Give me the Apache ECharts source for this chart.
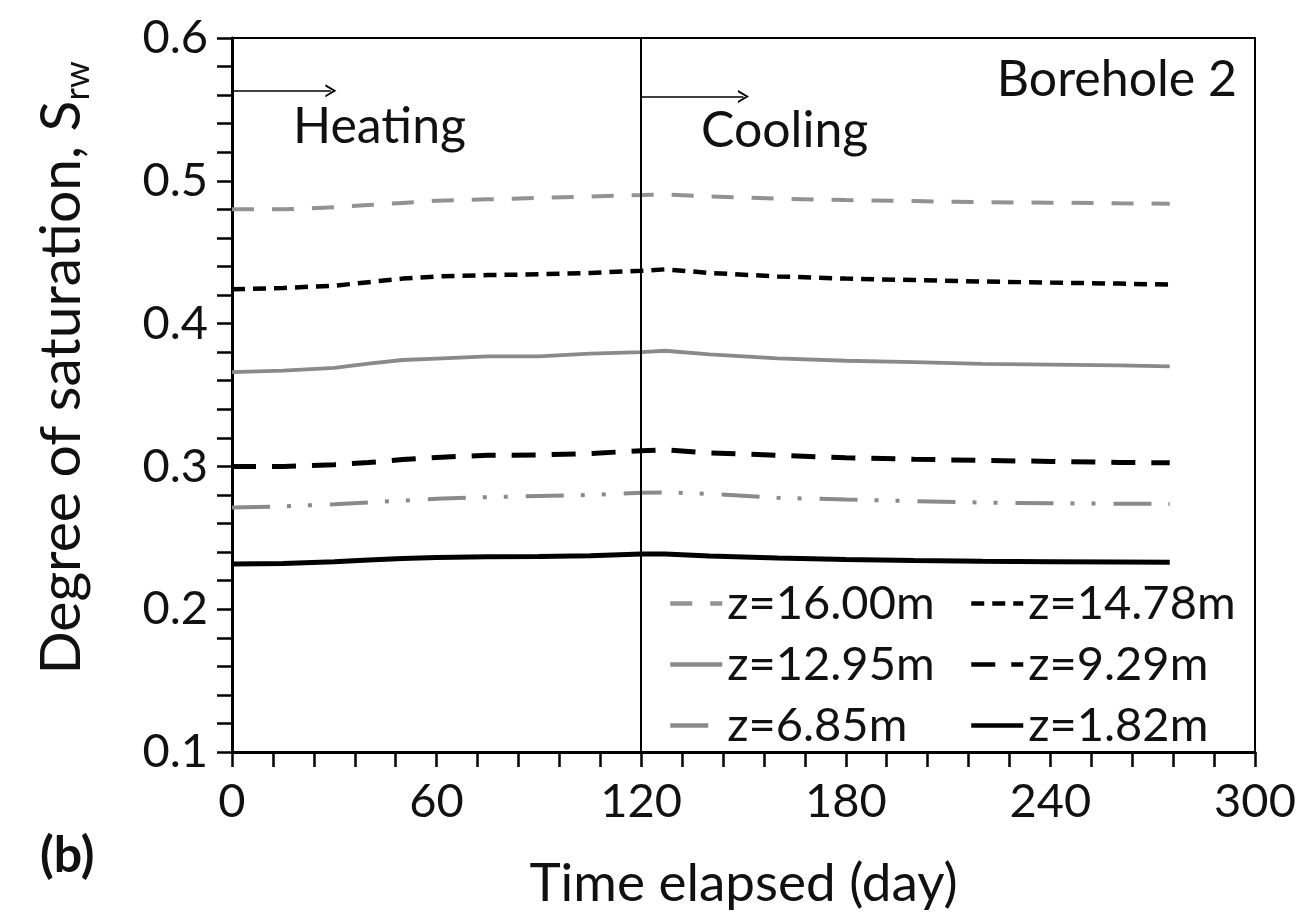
<!DOCTYPE html>
<html>
<head>
<meta charset="utf-8">
<script src="https://cdn.jsdelivr.net/npm/echarts@6/dist/echarts.min.js"></script>
<style>
  html, body { margin: 0; padding: 0; background: #fff; }
  #chart { width: 1304px; height: 915px; }
</style>
</head>
<body>
<div id="chart"></div>
<script>
// Time axis (days) and degree of saturation at each depth, Borehole 2
const days = [0, 15, 30, 40, 50, 60, 75, 90, 105, 120, 127, 140, 160, 180, 200, 220, 240, 260, 275];
const z1600 = [0.480, 0.480, 0.4815, 0.483, 0.4845, 0.486, 0.487, 0.488, 0.489, 0.490, 0.4905, 0.489, 0.4875, 0.4865, 0.4858, 0.485, 0.4847, 0.4842, 0.484];
const z1478 = [0.424, 0.425, 0.4265, 0.429, 0.4315, 0.433, 0.434, 0.4345, 0.4355, 0.437, 0.438, 0.4355, 0.433, 0.4315, 0.4305, 0.4295, 0.4287, 0.428, 0.4273];
const z1295 = [0.366, 0.367, 0.369, 0.372, 0.3745, 0.3755, 0.377, 0.377, 0.379, 0.380, 0.381, 0.3785, 0.3757, 0.374, 0.373, 0.3718, 0.3713, 0.3707, 0.370];
const z929  = [0.300, 0.300, 0.3012, 0.3027, 0.3048, 0.3063, 0.3078, 0.308, 0.309, 0.311, 0.3116, 0.3095, 0.3078, 0.306, 0.305, 0.3042, 0.3035, 0.3028, 0.3025];
const z685  = [0.2713, 0.272, 0.2735, 0.2748, 0.276, 0.2773, 0.2785, 0.2793, 0.280, 0.2815, 0.2818, 0.2808, 0.278, 0.2768, 0.2757, 0.2747, 0.2742, 0.2739, 0.2737];
const z182  = [0.2316, 0.232, 0.2332, 0.2345, 0.2355, 0.2362, 0.2367, 0.2369, 0.2375, 0.2386, 0.2387, 0.2372, 0.2358, 0.2348, 0.2341, 0.2336, 0.2333, 0.233, 0.2328];

const seriesNames = ['z=16.00m', 'z=14.78m', 'z=12.95m', 'z=9.29m', 'z=6.85m', 'z=1.82m'];
const xTicks = [0, 60, 120, 180, 240, 300];
const yTicks = [0.1, 0.2, 0.3, 0.4, 0.5, 0.6];

// Phase boundary and phase arrows (day, saturation)
const phaseSwitchDay = 120;
const heatingArrow = [[0, 0.563], [29, 0.563]];
const coolingArrow = [[120, 0.559], [150, 0.559]];

const FONT = 'Lato, "Open Sans", sans-serif';
const GRAY = '#8a8a8a';
const chevron = 'path://M0,10 L5,0 L10,10 L8.4,10 L5,3.2 L1.6,10 Z';

function pairs(vals) { return days.map((d, i) => [d, vals[i]]); }

function lineSeries(name, vals, color, width, type) {
  return {
    name: name,
    type: 'line',
    data: pairs(vals),
    symbol: 'none',
    smooth: false,
    silent: true,
    lineStyle: { color: color, width: width, type: type },
    itemStyle: { color: color },
    z: 3
  };
}

function arrowLine(seg) {
  return [
    { coord: seg[0], symbol: 'none' },
    { coord: seg[1], symbol: chevron, symbolSize: [13, 11] }
  ];
}

const chart = echarts.init(document.getElementById('chart'), null, { renderer: 'canvas' });

// Two vertical legend columns so the entries line up in a 3x2 block
const legendCommon = {
  orient: 'vertical',
  itemWidth: 52,
  itemHeight: 14,
  itemGap: 14,
  selectedMode: false,
  itemStyle: { opacity: 0 },
  lineStyle: { width: 4.5 },
  textStyle: { fontFamily: FONT, fontSize: 47, color: '#111', lineHeight: 46 }
};

chart.setOption({
  animation: false,
  backgroundColor: '#fff',
  grid: {
    left: 232, right: 49, top: 38, bottom: 162,
    show: true, borderColor: '#000', borderWidth: 2, backgroundColor: 'transparent'
  },
  legend: [
    Object.assign({ data: [seriesNames[0], seriesNames[2], seriesNames[4]], left: 663, top: 575 }, legendCommon),
    Object.assign({ data: [seriesNames[1], seriesNames[3], seriesNames[5]], left: 964, top: 575 }, legendCommon)
  ],
  xAxis: {
    type: 'value',
    min: xTicks[0], max: xTicks[xTicks.length - 1], interval: 60,
    name: 'Time elapsed (day)', nameLocation: 'middle', nameGap: 105,
    nameTextStyle: { fontFamily: FONT, fontSize: 53, color: '#111' },
    axisLine: { onZero: false, lineStyle: { color: '#000', width: 3 } },
    axisTick: { show: true, inside: false, length: 15, lineStyle: { color: '#000', width: 2.5 } },
    minorTick: { show: true, splitNumber: 5, length: 15, lineStyle: { color: '#000', width: 2.5 } },
    splitLine: { show: false },
    axisLabel: { fontFamily: FONT, fontSize: 47, color: '#111', margin: 26 }
  },
  yAxis: {
    type: 'value',
    min: yTicks[0], max: yTicks[yTicks.length - 1], interval: 0.1,
    axisLine: { onZero: false, lineStyle: { color: '#000', width: 3 } },
    axisTick: { show: true, inside: false, length: 15, lineStyle: { color: '#000', width: 2.5 } },
    minorTick: { show: true, splitNumber: 5, length: 15, lineStyle: { color: '#000', width: 2.5 } },
    splitLine: { show: false },
    axisLabel: {
      fontFamily: FONT, fontSize: 47, color: '#111', margin: 24,
      formatter: v => v.toFixed(1)
    }
  },
  series: [
    lineSeries(seriesNames[0], z1600, '#929292', 4, [22, 18]),
    lineSeries(seriesNames[1], z1478, '#000', 4.5, [13, 8]),
    lineSeries(seriesNames[2], z1295, GRAY, 3.8, 'solid'),
    lineSeries(seriesNames[3], z929, '#000', 5, [24, 16]),
    lineSeries(seriesNames[4], z685, GRAY, 4, [38, 17, 4, 17, 4, 18]),
    lineSeries(seriesNames[5], z182, '#000', 5, 'solid'),
    {
      name: 'phases',
      type: 'line',
      data: [],
      silent: true,
      markLine: {
        silent: true,
        animation: false,
        label: { show: false },
        symbol: 'none',
        lineStyle: { color: '#000', width: 1.6, type: 'solid' },
        emphasis: { disabled: true },
        data: [
          [{ coord: [phaseSwitchDay, yTicks[0]], symbol: 'none' }, { coord: [phaseSwitchDay, yTicks[yTicks.length - 1]], symbol: 'none', lineStyle: { width: 2 } }],
          arrowLine(heatingArrow),
          arrowLine(coolingArrow)
        ]
      }
    }
  ],
  graphic: [
    // y-axis title with subscript, reading bottom to top
    { type: 'text', x: 62, y: 368, rotation: Math.PI / 2, silent: true,
      style: {
        text: '{a|Degree of saturation, S}{s|rw}',
        align: 'center', verticalAlign: 'middle',
        rich: {
          a: { fontFamily: FONT, fontSize: 57, fill: '#111', lineHeight: 66, verticalAlign: 'middle' },
          s: { fontFamily: FONT, fontSize: 34, fill: '#111', lineHeight: 66, verticalAlign: 'bottom' }
        }
      } },
    { type: 'text', x: 293, y: 127, silent: true,
      style: { text: 'Heating', fontFamily: FONT, fontSize: 50, fill: '#111', verticalAlign: 'middle', align: 'left' } },
    { type: 'text', x: 701, y: 131, silent: true,
      style: { text: 'Cooling', fontFamily: FONT, fontSize: 50, fill: '#111', verticalAlign: 'middle', align: 'left' } },
    { type: 'text', x: 1237, y: 80, silent: true,
      style: { text: 'Borehole 2', fontFamily: FONT, fontSize: 50, fill: '#111', verticalAlign: 'middle', align: 'right' } },
    { type: 'text', x: 40, y: 856, silent: true,
      style: { text: '(b)', fontFamily: FONT, fontSize: 50, fontWeight: 'bold', fill: '#111', verticalAlign: 'middle', align: 'left' } }
  ]
});
</script>
</body>
</html>
